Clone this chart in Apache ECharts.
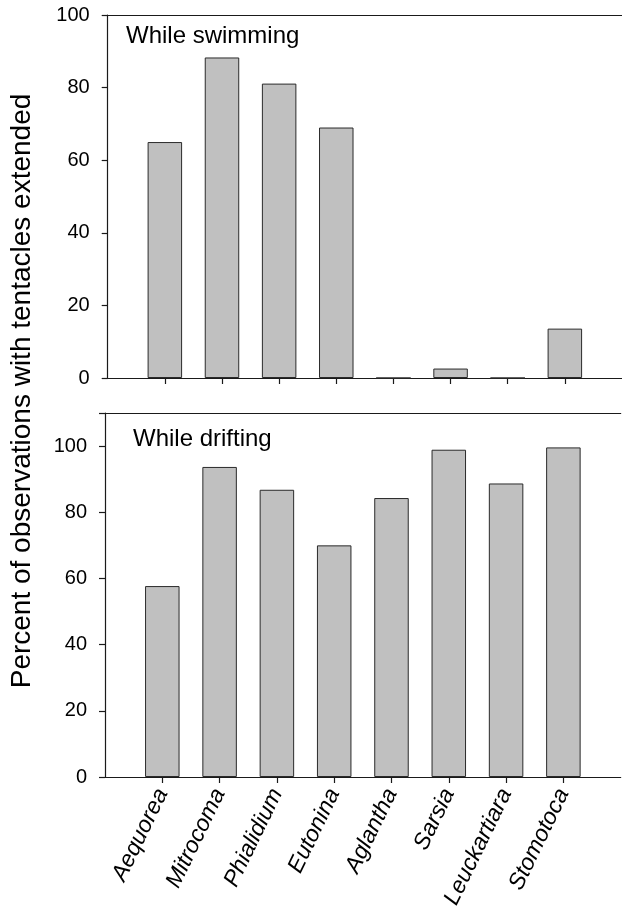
<!DOCTYPE html>
<html>
<head>
<meta charset="utf-8">
<script src="https://cdn.jsdelivr.net/npm/echarts@6/dist/echarts.min.js"></script>
<style>
html,body{margin:0;padding:0;background:#fff;}
#chart{width:622px;height:914px;}
</style>
</head>
<body>
<div id="chart"></div>
<script>
var species = ['Aequorea','Mitrocoma','Phialidium','Eutonina','Aglantha','Sarsia','Leuckartiara','Stomotoca'];
var swimming = [65, 88.3, 81.1, 69, 0, 2.6, 0, 13.6];
var drifting = [57.7, 93.7, 86.8, 70, 84.3, 98.9, 88.7, 99.6];
var topTicks = [0, 20, 40, 60, 80, 100];
var bottomTicks = [0, 20, 40, 60, 80, 100];
var panelTitles = ['While swimming', 'While drifting'];
var yTitle = 'Percent of observations with tentacles extended';

var FONT = '"Liberation Sans", Arial, Helvetica, sans-serif';
var cats = [''].concat(species).concat(['']);
function pad(arr){ return [null].concat(arr).concat([null]); }

var chart = echarts.init(document.getElementById('chart'), null, {renderer:'canvas'});
var STEP = 57.86;
var lineStyle = {color:'#1a1a1a', width:1.2};

function xAxis(idx, showLabels){
  return {
    type:'category', gridIndex: idx, data: cats, boundaryGap:false, position:'bottom',
    axisLine:{show:true, onZero:false, lineStyle: lineStyle},
    axisTick:{show:true, inside:false, length:6, lineStyle: lineStyle,
      interval: function(i, v){ return v !== ''; }},
    axisLabel:{show: showLabels, interval:0, rotate:64, margin:13,
      fontSize:23, fontStyle:'italic', color:'#000', fontFamily:FONT},
    splitLine:{show:false}
  };
}
function topLine(idx){
  return {
    type:'category', gridIndex: idx, data: cats, boundaryGap:false, position:'top',
    axisLine:{show:true, onZero:false, lineStyle: lineStyle},
    axisTick:{show:false}, axisLabel:{show:false}, splitLine:{show:false}
  };
}
function yAxis(idx, max, ticks){
  return {
    type:'value', gridIndex: idx, min:0, max:max, interval:20,
    axisLine:{show:true, lineStyle: lineStyle},
    axisTick:{show:true, inside:false, length:6, lineStyle: lineStyle},
    axisLabel:{show:true, margin:18, fontSize:20, color:'#000', fontFamily:FONT,
      formatter: function(v){ return ticks.indexOf(v) >= 0 ? String(v) : ''; }},
    splitLine:{show:false}
  };
}
var barStyle = {color:'#c0c0c0', borderColor:'#2a2a2a', borderWidth:1};

chart.setOption({
  animation:false,
  backgroundColor:'#fff',
  grid:[
    {left:107.7, top:15, width:STEP*9, height:363, show:false},
    {left:105, top:413, width:STEP*9, height:364, show:false}
  ],
  xAxis:[xAxis(0,false), xAxis(1,true), topLine(0), topLine(1)],
  yAxis:[yAxis(0,100,topTicks), yAxis(1,110,bottomTicks)],
  series:[
    {type:'bar', xAxisIndex:0, yAxisIndex:0, data: pad(swimming), barWidth:34.5, itemStyle: barStyle},
    {type:'bar', xAxisIndex:1, yAxisIndex:1, data: pad(drifting), barWidth:34.5, itemStyle: barStyle}
  ],
  graphic:[
    {type:'text', x:126, y:36, style:{text:panelTitles[0], fontSize:24, fill:'#000', fontFamily:FONT, textAlign:'left', textVerticalAlign:'middle'}},
    {type:'text', x:133, y:439, style:{text:panelTitles[1], fontSize:24, fill:'#000', fontFamily:FONT, textAlign:'left', textVerticalAlign:'middle'}},
    {type:'text', x:22, y:391, rotation:Math.PI/2, style:{text:yTitle, fontSize:28, fill:'#000', fontFamily:FONT, textAlign:'center', textVerticalAlign:'middle'}}
  ]
});
</script>
</body>
</html>
